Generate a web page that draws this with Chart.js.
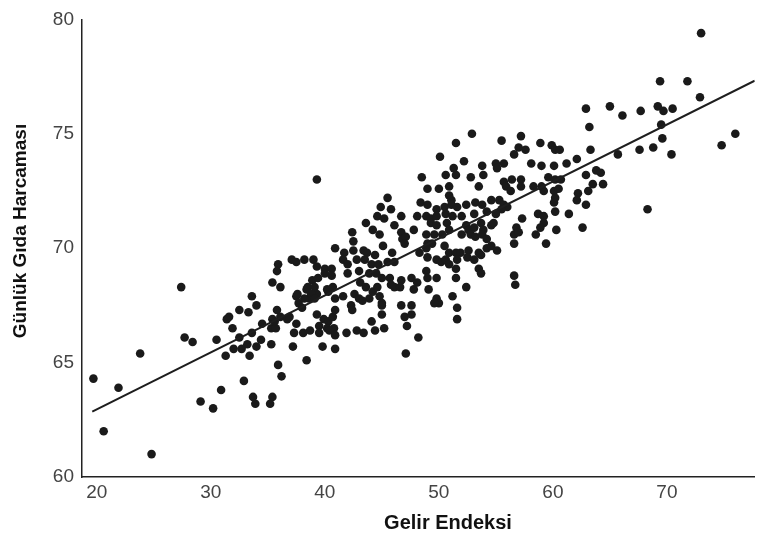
<!DOCTYPE html>
<html>
<head>
<meta charset="utf-8">
<script src="https://cdn.jsdelivr.net/npm/chart.js@4.4.0/dist/chart.umd.min.js"></script>
<style>
  body { margin: 0; background: #fff; }
  #mycanvas { display: block; }
</style>
</head>
<body>
<canvas id="mycanvas" width="759" height="535"></canvas>
<script>
// Gelir Endeksi (x) / Günlük Gıda Harcaması (y)
var incomeIdx = [
    27.4, 33.6, 32.5, 33.3, 31.4, 31.9, 27.7, 28.4, 30.5, 31.3, 32.0, 32.7, 33.4, 23.8, 19.7, 21.9,
    32.9, 30.9, 29.1, 30.2, 33.7, 20.6, 24.8,
    35.4, 36.1, 34.0, 35.8, 37.5, 38.4, 39.3, 40.3, 38.6, 37.7, 31.6, 34.5, 35.4, 36.1, 36.7, 35.3,
    35.7, 37.5, 39.3, 39.9, 40.3, 39.5, 40.2, 40.8, 32.5, 33.6, 34.4, 33.2, 34.0, 35.3,
    37.3, 38.1, 38.7, 39.5, 40.4, 40.9, 41.9, 42.8, 43.4, 44.4, 45.2, 37.2, 39.8, 40.9, 38.4, 35.9,
    36.2, 35.4, 35.2, 33.9, 47.1, 48.2, 47.2,
    39.3, 48.5, 45.5, 44.9, 45.8, 44.6, 45.2, 43.6, 44.2, 44.8, 46.1, 46.7, 46.8, 47.1, 48.1, 47.8,
    46.7, 42.4, 42.5, 40.9, 41.7, 42.5, 43.4, 43.7, 44.4, 45.1, 45.9, 47.0, 48.3, 41.6, 42.0, 42.8,
    43.5, 44.1, 44.7, 45.5, 46.1, 37.1, 37.5, 38.2, 39.0, 39.3, 35.9, 35.8, 40.0, 40.6, 42.0, 43.0,
    43.9, 44.5, 45.0, 45.7, 46.7, 45.8, 47.6, 48.1, 47.8, 38.9, 39.4, 40.0, 40.6, 38.5, 39.1, 40.2,
    40.7, 43.1, 43.6, 44.2, 44.6, 46.1, 46.6, 37.6, 38.2, 38.8, 39.1, 40.9, 41.6, 42.6, 43.0, 43.3,
    43.9, 44.8, 45.0, 46.7, 47.6, 47.0, 47.6, 36.9, 38.0, 40.7, 42.3, 42.4, 44.1, 45.0, 45.0, 40.9,
    35.6, 48.4,
    50.6, 51.5, 52.8, 53.9, 55.7, 56.4, 57.2, 57.2, 55.9, 56.3, 58.3, 59.0, 59.6, 60.2, 60.7, 59.2,
    60.1, 60.5, 60.2, 60.1, 62.2, 62.1, 63.1, 62.9, 62.9, 49.0, 50.0, 50.9, 50.9, 51.1, 53.5, 49.0,
    49.8, 50.5, 51.1, 51.6, 52.4, 53.2, 53.8, 54.6, 55.3, 55.7, 56.0, 55.5, 48.9, 49.3, 49.8, 50.6,
    51.2, 52.0, 53.1, 54.2, 55.0, 57.3, 58.7, 59.2, 60.2, 61.4, 49.3, 49.8, 50.7, 50.9, 52.4, 52.6,
    53.1, 53.7, 53.9, 54.6, 54.8, 56.8, 56.6, 57.0, 59.2, 58.9, 58.5, 60.3, 62.6, 48.9, 49.6, 50.3,
    52.0, 52.8, 53.2, 53.8, 54.2, 49.0, 49.4, 48.9, 50.5, 50.9, 51.5, 51.9, 52.6, 53.5, 54.2, 54.6,
    55.1, 56.6, 59.4, 49.0, 49.8, 50.2, 50.6, 50.9, 51.6, 52.5, 53.1, 53.7, 48.9, 49.0, 51.5, 53.5,
    53.7, 49.8, 51.5, 56.6, 56.7, 49.1, 52.4, 51.2, 49.8, 50.0, 49.6, 51.6, 51.6,
    62.9, 63.2, 52.9, 51.5, 50.1, 55.5, 57.2, 58.9, 57.0, 57.6, 56.6, 59.9, 60.2, 60.6, 52.2, 51.3,
    53.8, 55.0, 55.7, 55.1, 58.1, 59.0, 60.1, 61.2, 62.1, 63.3,
    73.0, 69.4, 71.8, 72.9, 65.0, 66.1, 67.7, 69.2, 69.7, 70.5, 69.5, 69.6, 68.8, 67.6, 70.4, 65.7,
    76.0, 74.8, 63.8, 64.2, 63.5, 64.4, 68.3
];
var foodSpend = [
    68.3, 67.9, 67.3, 67.2, 66.9, 66.5, 66.1, 65.9, 66.0, 65.3, 65.6, 65.6, 65.3, 65.4, 64.3, 63.9,
    64.2, 63.8, 63.3, 63.0, 63.5, 62.0, 61.0,
    68.5, 68.3, 67.5, 67.3, 67.9, 68.2, 68.0, 68.1, 67.8, 67.6, 67.0, 66.7, 66.9, 67.0, 66.9, 66.5,
    66.5, 66.7, 67.1, 66.9, 66.8, 66.6, 66.5, 66.5, 66.1, 66.3, 66.0, 65.8, 65.7, 65.8,
    66.3, 66.3, 66.4, 66.3, 66.4, 66.2, 66.3, 66.4, 66.3, 66.4, 66.5, 65.7, 65.7, 65.6, 65.1, 64.9,
    64.4, 63.5, 63.2, 63.2, 65.4, 66.1, 66.6,
    73.0, 73.1, 72.2, 71.8, 71.7, 71.4, 71.3, 71.1, 70.8, 70.6, 71.0, 70.7, 70.4, 70.5, 71.4, 70.8,
    71.4, 70.7, 70.3, 70.0, 69.8, 69.9, 69.9, 69.8, 69.7, 70.1, 69.8, 70.2, 69.8, 69.5, 69.3, 69.5,
    69.5, 69.3, 69.3, 69.4, 69.4, 69.5, 69.4, 69.5, 69.5, 69.2, 69.3, 69.0, 69.1, 69.1, 68.9, 69.0,
    68.9, 68.9, 68.7, 68.7, 68.6, 68.4, 68.7, 68.5, 68.2, 68.6, 68.7, 68.9, 68.8, 68.3, 68.3, 68.2,
    68.3, 68.5, 68.3, 68.1, 68.3, 68.3, 68.3, 68.0, 67.8, 68.0, 67.8, 67.8, 67.9, 68.0, 67.8, 67.7,
    67.8, 67.9, 67.6, 67.5, 67.5, 67.0, 67.1, 67.0, 67.4, 67.0, 67.5, 67.3, 66.8, 67.5, 67.1, 67.3,
    66.8, 72.0,
    73.2, 73.2, 73.1, 73.2, 72.9, 73.0, 73.0, 72.7, 72.7, 72.5, 72.7, 72.7, 73.1, 73.0, 73.0, 72.5,
    72.5, 72.6, 72.2, 72.0, 72.4, 72.1, 72.5, 71.9, 73.2, 72.6, 72.6, 72.7, 72.3, 72.1, 72.7, 71.9,
    71.7, 71.8, 71.9, 71.8, 71.9, 72.0, 71.9, 72.1, 72.1, 71.9, 71.8, 71.7, 71.4, 71.3, 71.4, 71.5,
    71.4, 71.4, 71.5, 71.6, 71.5, 71.3, 71.5, 71.4, 71.6, 71.5, 71.1, 71.0, 71.1, 70.8, 71.0, 70.8,
    70.9, 71.1, 70.8, 71.0, 71.1, 70.9, 70.6, 70.7, 71.1, 70.9, 70.6, 70.8, 70.9, 70.6, 70.6, 70.6,
    70.6, 70.6, 70.5, 70.6, 70.4, 70.2, 70.2, 70.0, 70.1, 69.8, 69.8, 69.8, 69.9, 69.8, 70.0, 70.1,
    69.9, 70.2, 70.2, 69.6, 69.5, 69.4, 69.5, 69.3, 69.5, 69.6, 69.5, 69.7, 69.0, 68.7, 69.1, 69.1,
    68.9, 68.7, 68.7, 68.8, 68.4, 68.2, 68.3, 67.9, 67.8, 67.6, 67.6, 67.4, 66.9,
    76.1, 75.3, 75.0, 74.6, 74.0, 74.7, 74.9, 74.6, 74.4, 74.3, 74.1, 74.5, 74.3, 74.3, 73.8, 73.5,
    73.6, 73.7, 73.7, 73.5, 73.7, 73.6, 73.6, 73.7, 73.9, 74.3,
    79.4, 77.3, 77.3, 76.6, 76.2, 75.8, 76.0, 76.2, 76.0, 76.1, 75.4, 74.8, 74.4, 74.3, 74.1, 74.1,
    75.0, 74.5, 73.4, 73.3, 72.8, 72.8, 71.7
];
// fitted line end points
var lineX = [19.6, 77.7];
var lineY = [62.86, 77.32];
var xTicks = [20, 30, 40, 50, 60, 70];
var yTicks = [60, 65, 70, 75, 80];
var xTitle = 'Gelir Endeksi';
var yTitle = 'Günlük Gıda Harcaması';

var points = [];
for (var i in incomeIdx) {
    points.push({ x: incomeIdx[i], y: foodSpend[i] });
}
var fit = [];
for (var j in lineX) {
    fit.push({ x: lineX[j], y: lineY[j] });
}

var fam = "'Liberation Sans', Arial, sans-serif";
var tickFont = { family: fam, size: 19 };

// axis titles sit a bit off-centre in the original, so draw them by hand
var axisTitles = {
    id: 'axisTitles',
    afterDraw: function (chart) {
        var c = chart.ctx;
        c.save();
        c.fillStyle = '#111';
        c.textAlign = 'center';
        c.textBaseline = 'middle';
        c.font = 'bold 20px ' + fam;
        c.fillText(xTitle, 448, 523);
        c.translate(21, 231);
        c.rotate(-Math.PI / 2);
        c.font = 'bold 19px ' + fam;
        c.fillText(yTitle, 0, 0);
        c.restore();
    }
};

var ctx = document.getElementById('mycanvas');
var chart = new Chart(ctx, {
    type: 'scatter',
    data: {
        datasets: [
            {
                type: 'line',
                data: fit,
                borderColor: '#1e1e1e',
                borderWidth: 2,
                pointRadius: 0,
                fill: false
            },
            {
                data: points,
                backgroundColor: '#1a1a1a',
                borderWidth: 0,
                pointRadius: 4.3,
                pointHoverRadius: 4.3
            }
        ]
    },
    plugins: [axisTitles],
    options: {
        responsive: false,
        animation: false,
        events: [],
        layout: { padding: { top: 15, right: 0, left: 0, bottom: 0 } },
        plugins: {
            legend: { display: false },
            tooltip: { enabled: false }
        },
        scales: {
            x: {
                type: 'linear',
                min: 18.7,
                max: 77.7,
                afterBuildTicks: function (scale) {
                    scale.ticks = xTicks.map(function (v) { return { value: v }; });
                },
                afterFit: function (scale) { scale.height = 58; },
                grid: { display: false, tickLength: 0 },
                border: { display: true, color: '#222', width: 1.5 },
                ticks: { font: tickFont, color: '#444', padding: 4, maxRotation: 0 }
            },
            y: {
                type: 'linear',
                min: 60,
                max: 80,
                afterBuildTicks: function (scale) {
                    scale.ticks = yTicks.map(function (v) { return { value: v }; });
                },
                afterFit: function (scale) { scale.width = 82; },
                grid: { display: false, tickLength: 0 },
                border: { display: true, color: '#222', width: 1.5 },
                ticks: { font: tickFont, color: '#444', padding: 8 }
            }
        }
    }
});
</script>
</body>
</html>
